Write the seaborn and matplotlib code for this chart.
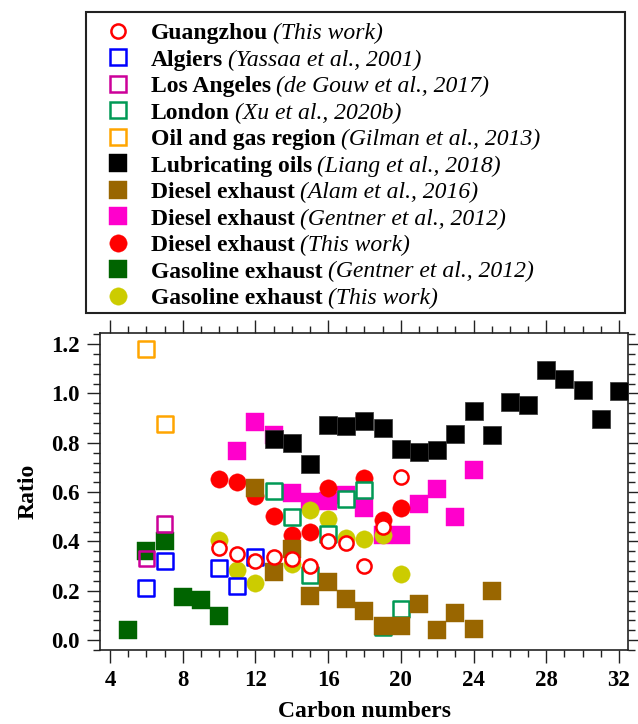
import matplotlib
matplotlib.use("Agg")
import matplotlib.pyplot as plt
from matplotlib.lines import Line2D
from matplotlib.patches import Rectangle
from matplotlib.ticker import MultipleLocator, FormatStrFormatter
import seaborn as sns
import pandas as pd

# ---------------- data ----------------
guangzhou_x = [10, 11, 12, 13, 14, 15, 16, 17, 18, 19, 20]
guangzhou_y = [0.375, 0.35, 0.32, 0.338, 0.328, 0.30, 0.40, 0.395, 0.30, 0.46, 0.66]

algiers_x = [6, 7, 10, 11, 12]
algiers_y = [0.21, 0.322, 0.292, 0.22, 0.337]

la_x = [6, 7]
la_y = [0.331, 0.47]

london_x = [13, 14, 15, 16, 17, 18, 19, 20]
london_y = [0.603, 0.50, 0.262, 0.43, 0.574, 0.607, 0.052, 0.125]

oil_x = [6, 7]
oil_y = [1.18, 0.875]

lube_x = list(range(13, 33))
lube_y = [0.815, 0.80, 0.715, 0.872, 0.866, 0.887, 0.86, 0.775, 0.761, 0.77,
          0.835, 0.928, 0.83, 0.966, 0.955, 1.097, 1.06, 1.012, 0.896, 1.01]

alam_x = list(range(12, 26))
alam_y = [0.617, 0.277, 0.368, 0.178, 0.236, 0.166, 0.12, 0.057, 0.057, 0.145,
          0.04, 0.108, 0.047, 0.20]

gentner_d_x = list(range(11, 25))
gentner_d_y = [0.766, 0.885, 0.83, 0.598, 0.56, 0.563, 0.59, 0.536, 0.425, 0.428,
               0.55, 0.613, 0.50, 0.69]

diesel_tw_x = [10, 11, 12, 13, 14, 15, 16, 18, 19, 20]
diesel_tw_y = [0.653, 0.642, 0.585, 0.503, 0.428, 0.44, 0.617, 0.657, 0.486, 0.534]

gas_g_x = [5, 6, 7, 8, 9, 10]
gas_g_y = [0.043, 0.362, 0.40, 0.176, 0.162, 0.099]

gas_tw_x = [10, 11, 12, 14, 15, 16, 17, 18, 19, 20]
gas_tw_y = [0.405, 0.284, 0.23, 0.31, 0.527, 0.49, 0.415, 0.408, 0.425, 0.268]

x_ticks = [4, 8, 12, 16, 20, 24, 28, 32]
y_ticks = [0.0, 0.2, 0.4, 0.6, 0.8, 1.0, 1.2]

legend_names = ["Guangzhou", "Algiers", "Los Angeles", "London", "Oil and gas region",
                "Lubricating oils", "Diesel exhaust", "Diesel exhaust", "Diesel exhaust",
                "Gasoline exhaust", "Gasoline exhaust"]
legend_refs = ["(This work)", "(Yassaa et al., 2001)", "(de Gouw et al., 2017)",
               "(Xu et al., 2020b)", "(Gilman et al., 2013)", "(Liang et al., 2018)",
               "(Alam et al., 2016)", "(Gentner et al., 2012)", "(This work)",
               "(Gentner et al., 2012)", "(This work)"]

# ---------------- style ----------------
sns.set_style("ticks")
plt.rcParams["font.family"] = ["Liberation Serif", "DejaVu Serif"]
for k in ["text.color", "axes.labelcolor", "xtick.color", "ytick.color", "axes.edgecolor"]:
    plt.rcParams[k] = "black"

RED = "#FF0000"
BLUE = "#0000FF"
LAMAG = "#CC0099"
LGREEN = "#009955"
ORANGE = "#FFA500"
BLACK = "#000000"
BROWN = "#996600"
MAG = "#FF00CC"
DGREEN = "#006400"
YELLOW = "#CCCC00"

W, H = 638, 724
fig = plt.figure(figsize=(W / 100, H / 100), dpi=100)
ax = fig.add_axes([100 / W, 1 - 650 / H, 528 / W, 317 / H])

S_FSQ, S_OSQ, S_FC, S_OC = 169, 125, 156, 104
LW_O = 1.8

def df(x, y):
    return pd.DataFrame({"x": x, "y": y})

# drawing order (back to front)
sns.scatterplot(data=df(gentner_d_x, gentner_d_y), x="x", y="y", ax=ax, marker="s",
                s=S_FSQ, color=MAG, edgecolor=MAG, linewidth=0.3, legend=False, zorder=2)
sns.scatterplot(data=df(gas_g_x, gas_g_y), x="x", y="y", ax=ax, marker="s",
                s=S_FSQ, color=DGREEN, edgecolor=DGREEN, linewidth=0.3, legend=False, zorder=3)
sns.scatterplot(data=df(gas_tw_x, gas_tw_y), x="x", y="y", ax=ax, marker="o",
                s=S_FC, color=YELLOW, edgecolor=YELLOW, linewidth=0.3, legend=False, zorder=4)
sns.scatterplot(data=df(diesel_tw_x, diesel_tw_y), x="x", y="y", ax=ax, marker="o",
                s=S_FC, color=RED, edgecolor=RED, linewidth=0.3, legend=False, zorder=5)
sns.scatterplot(data=df(london_x, london_y), x="x", y="y", ax=ax, marker="s",
                s=S_OSQ, color="white", edgecolor=LGREEN, linewidth=LW_O, legend=False, zorder=6)
sns.scatterplot(data=df(alam_x, alam_y), x="x", y="y", ax=ax, marker="s",
                s=S_FSQ, color=BROWN, edgecolor=BROWN, linewidth=0.3, legend=False, zorder=7)
sns.scatterplot(data=df(lube_x, lube_y), x="x", y="y", ax=ax, marker="s",
                s=S_FSQ, color=BLACK, edgecolor="#333333", linewidth=0.5, legend=False, zorder=8)
sns.scatterplot(data=df(algiers_x, algiers_y), x="x", y="y", ax=ax, marker="s",
                s=S_OSQ, color="white", edgecolor=BLUE, linewidth=LW_O, legend=False, zorder=9)
sns.scatterplot(data=df(oil_x, oil_y), x="x", y="y", ax=ax, marker="s",
                s=S_OSQ, color="white", edgecolor=ORANGE, linewidth=LW_O, legend=False, zorder=10)
sns.scatterplot(data=df(la_x, la_y), x="x", y="y", ax=ax, marker="s",
                s=S_OSQ, color="none", edgecolor=LAMAG, linewidth=LW_O, legend=False, zorder=11)
sns.scatterplot(data=df(guangzhou_x, guangzhou_y), x="x", y="y", ax=ax, marker="o",
                s=S_OC, color="white", edgecolor=RED, linewidth=LW_O, legend=False, zorder=12)

# ---------------- axes ----------------
ax.set_xlim(3.45, 32.5)
ax.set_ylim(-0.04, 1.245)
ax.set_xticks(x_ticks)
ax.set_yticks(y_ticks)
ax.xaxis.set_minor_locator(MultipleLocator(1))
ax.yaxis.set_minor_locator(MultipleLocator(0.04))
ax.yaxis.set_major_formatter(FormatStrFormatter("%.1f"))
ax.tick_params(which="both", direction="out", top=True, right=True,
               labeltop=False, labelright=False, width=1.0, color="#222222")
ax.tick_params(which="major", length=9.5, pad=5, labelsize=16.5)
ax.tick_params(which="minor", length=5)
for lab in ax.get_xticklabels() + ax.get_yticklabels():
    lab.set_fontweight("bold")
for sp in ax.spines.values():
    sp.set_linewidth(1.2)
    sp.set_color("#222222")

ax.set_xlabel("Carbon numbers", fontsize=17, fontweight="bold")
ax.set_ylabel("Ratio", fontsize=17, fontweight="bold")
ax.xaxis.set_label_coords(0.5, -0.195)
ax.xaxis.label.set_va("center")
ax.yaxis.set_label_coords(-0.136, 0.5)
ax.yaxis.label.set_va("center")

# ---------------- legend ----------------
styles = [
    ("o", "white", RED, 10.2, LW_O),
    ("s", "white", BLUE, 11.2, LW_O),
    ("s", "white", LAMAG, 11.2, LW_O),
    ("s", "white", LGREEN, 11.2, LW_O),
    ("s", "white", ORANGE, 11.2, LW_O),
    ("s", BLACK, BLACK, 13, 0.3),
    ("s", BROWN, BROWN, 13, 0.3),
    ("s", MAG, MAG, 13, 0.3),
    ("o", RED, RED, 12.5, 0.3),
    ("s", DGREEN, DGREEN, 13, 0.3),
    ("o", YELLOW, YELLOW, 12.5, 0.3),
]
handles = []
for m, fc, ec, ms, mew in styles:
    handles.append(Line2D([], [], linestyle="none", marker=m, markersize=ms,
                          markerfacecolor=fc, markeredgecolor=ec, markeredgewidth=mew))

leg = fig.legend(handles, legend_names, loc="upper left",
                 bbox_to_anchor=(86 / W, 1 - 313 / H, 539 / W, 301 / H),
                 mode="expand", prop={"size": 17, "weight": "bold"}, frameon=False,
                 handlelength=1.8, handletextpad=0.5, borderpad=0.45,
                 labelspacing=0.21, borderaxespad=0.0, labelcolor="black")

# legend frame drawn explicitly to match the reference box
fig.patches.append(Rectangle((86 / W, 1 - 313 / H), 539 / W, 301 / H,
                             transform=fig.transFigure, fill=False,
                             edgecolor="#222222", linewidth=1.5, zorder=1))

fig.canvas.draw()
renderer = fig.canvas.get_renderer()
inv = fig.transFigure.inverted()
for t, ref in zip(leg.get_texts(), legend_refs):
    bb = t.get_window_extent(renderer)
    base = t.get_transform().transform(t.get_position())
    fx, fy = inv.transform((bb.x1 + 5, base[1]))
    fig.text(fx, fy, ref, fontsize=17, fontstyle="italic", color="black",
             ha="left", va="baseline", zorder=20)

fig.savefig("out.png", dpi=100)
